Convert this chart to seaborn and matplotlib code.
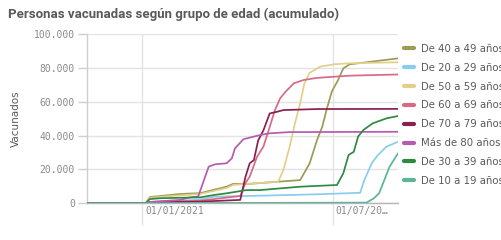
import matplotlib
matplotlib.use("Agg")
import matplotlib.pyplot as plt
import matplotlib.transforms as mtrans
from matplotlib.ticker import FuncFormatter
import seaborn as sns
import pandas as pd

# ---- data ----
series_order = ["De 40 a 49 años", "De 20 a 29 años", "De 50 a 59 años", "De 60 a 69 años",
                "De 70 a 79 años", "Más de 80 años", "De 30 a 39 años", "De 10 a 19 años"]

g40_dates = ["2020-11-10", "2021-01-04", "2021-01-08", "2021-01-18", "2021-02-06", "2021-02-25",
             "2021-03-22", "2021-03-28", "2021-04-13", "2021-05-31", "2021-06-09", "2021-06-16",
             "2021-06-21", "2021-06-25", "2021-06-30", "2021-07-06", "2021-07-11", "2021-07-17",
             "2021-08-02", "2021-09-01"]
g40_vals = [0, 0, 3700, 4300, 5500, 6000, 9800, 11400, 11500, 13700, 23600, 37300,
            45200, 55000, 65800, 72700, 79600, 82000, 83200, 85500]

g20_dates = ["2020-11-10", "2021-01-04", "2021-01-08", "2021-02-06", "2021-02-25", "2021-03-10",
             "2021-04-23", "2021-06-16", "2021-07-27", "2021-07-31", "2021-08-07", "2021-08-13",
             "2021-08-21", "2021-09-01"]
g20_vals = [0, 0, 800, 1500, 2200, 3900, 4500, 5300, 6200, 13700, 23600, 28500, 33400, 36300]

g50_dates = ["2020-11-10", "2021-01-04", "2021-01-08", "2021-01-18", "2021-02-25", "2021-03-22",
             "2021-03-28", "2021-04-13", "2021-05-10", "2021-05-15", "2021-05-21", "2021-05-26",
             "2021-05-31", "2021-06-04", "2021-06-09", "2021-06-19", "2021-07-02", "2021-07-17",
             "2021-09-01"]
g50_vals = [0, 0, 3200, 3800, 5500, 9000, 10800, 11600, 12700, 19600, 33400, 47200,
            59000, 70800, 77000, 80600, 82000, 82600, 83200]

g60_dates = ["2020-11-10", "2021-01-04", "2021-01-08", "2021-02-25", "2021-03-10", "2021-04-04",
             "2021-04-09", "2021-04-13", "2021-04-20", "2021-04-26", "2021-05-02", "2021-05-07",
             "2021-05-12", "2021-05-17", "2021-05-25", "2021-06-03", "2021-06-16", "2021-07-17",
             "2021-09-01"]
g60_vals = [0, 0, 800, 1500, 2500, 4300, 12000, 15700, 27500, 33400, 45000, 55000,
            62000, 65800, 70800, 72700, 74000, 75300, 76000]

g70_dates = ["2020-11-10", "2021-01-04", "2021-01-08", "2021-02-25", "2021-04-04", "2021-04-09",
             "2021-04-13", "2021-04-17", "2021-04-21", "2021-04-26", "2021-05-02", "2021-05-09",
             "2021-05-15", "2021-06-16", "2021-09-01"]
g70_vals = [0, 0, 500, 1000, 2000, 15700, 23600, 25500, 37000, 43000, 53000, 54000,
            55000, 55600, 55700]

g80_dates = ["2020-11-10", "2021-01-04", "2021-01-08", "2021-02-06", "2021-02-15", "2021-02-23",
             "2021-03-05", "2021-03-11", "2021-03-22", "2021-03-27", "2021-03-30", "2021-04-07",
             "2021-04-23", "2021-05-02", "2021-05-21", "2021-09-01"]
g80_vals = [0, 0, 800, 2000, 3500, 4000, 21600, 23000, 23600, 26500, 32400, 37800,
            40300, 41300, 42000, 42200]

g30_dates = ["2020-11-10", "2021-01-04", "2021-01-08", "2021-01-18", "2021-02-25", "2021-03-10",
             "2021-03-22", "2021-04-10", "2021-04-23", "2021-05-31", "2021-07-05", "2021-07-11",
             "2021-07-16", "2021-07-21", "2021-07-25", "2021-07-30", "2021-08-08", "2021-08-21",
             "2021-09-01"]
g30_vals = [0, 0, 2500, 3000, 3500, 4900, 5900, 7800, 7800, 9800, 10800, 17700,
            28500, 30400, 39300, 43200, 47200, 50100, 51500]

g10_dates = ["2020-11-10", "2021-01-04", "2021-01-08", "2021-06-01", "2021-08-02", "2021-08-09",
             "2021-08-14", "2021-08-19", "2021-08-24", "2021-09-01"]
g10_vals = [0, 0, 100, 300, 400, 2900, 5900, 13700, 21600, 29500]

palette = ["#9c9b55", "#87cdee", "#e3cf8a", "#d86a86", "#8a1f52", "#b55bb0", "#2e8a40", "#5ab59a"]

x_tick_dates = ["2021-01-01", "2021-07-01"]
x_tick_labels = ["01/01/2021", "01/07/20…"]
y_ticks = [0, 20000, 40000, 60000, 80000, 100000]

title = "Personas vacunadas según grupo de edad (acumulado)"
y_label = "Vacunados"

# ---- build table ----
all_dates = [g40_dates, g20_dates, g50_dates, g60_dates, g70_dates, g80_dates, g30_dates, g10_dates]
all_vals = [g40_vals, g20_vals, g50_vals, g60_vals, g70_vals, g80_vals, g30_vals, g10_vals]
frames = []
for name, d, v in zip(series_order, all_dates, all_vals):
    frames.append(pd.DataFrame({"fecha": pd.to_datetime(d), "valor": v, "grupo": name}))
df = pd.concat(frames, ignore_index=True)

# ---- plot ----
sns.set_theme(style="white")
plt.rcParams["font.family"] = ["DejaVu Sans"]

fig = plt.figure(figsize=(5.02, 2.40), dpi=100)
ax = fig.add_axes([86.7 / 502, 36.7 / 240, (398 - 86.7) / 502, (203.3 - 33.8) / 240])

sns.lineplot(data=df, x="fecha", y="valor", hue="grupo", hue_order=series_order,
             palette=palette, estimator=None, linewidth=1.25, ax=ax, legend=False, zorder=3)

ax.set_xlim(pd.Timestamp("2020-11-09"), pd.Timestamp("2021-09-01"))
ax.set_ylim(0, 100000)

grid_c = "#e3e3e3"
ax.set_yticks(y_ticks)
ax.yaxis.set_major_formatter(FuncFormatter(lambda v, p: f"{v:,.0f}".replace(",", ".")))
ax.set_xticks(pd.to_datetime(x_tick_dates))
ax.set_xticklabels(x_tick_labels)
ax.grid(True, color=grid_c, linewidth=1.0, zorder=0)
ax.set_axisbelow(True)

for s in ["top", "right"]:
    ax.spines[s].set_visible(False)
ax.spines["left"].set_color("#cfcfcf")
ax.spines["bottom"].set_color("#b5b5b5")
ax.spines["left"].set_linewidth(1.0)
ax.spines["bottom"].set_linewidth(1.0)

ax.tick_params(axis="y", length=6.5, width=1, color="#cfcfcf", pad=2,
               labelsize=7, labelcolor="#8a8a8a", left=True)
ax.tick_params(axis="x", length=16, width=1, color=grid_c, pad=-14,
               labelsize=7, labelcolor="#8a8a8a", bottom=True)
for lab in ax.get_yticklabels():
    lab.set_family("DejaVu Sans Mono")
offset = mtrans.ScaledTranslation(3 / 100, 0, fig.dpi_scale_trans)
for lab in ax.get_xticklabels():
    lab.set_family("DejaVu Sans Mono")
    lab.set_horizontalalignment("left")
    lab.set_transform(lab.get_transform() + offset)

ax.set_xlabel("")
ax.set_ylabel(y_label, fontsize=7.5, color="#595959")
ax.yaxis.set_label_coords(-66 / (398 - 86.7), 0.5)

fig.text(8 / 502, 1 - 14 / 240, title, fontsize=9.5, fontweight="bold", color="#595959",
         va="center", ha="left", family="Roboto")

handles = [plt.Line2D([], [], color=c, linewidth=3) for c in palette]
fig.legend(handles, series_order, loc="upper left", bbox_to_anchor=(404 / 502, 1 - 44 / 240),
           frameon=False, fontsize=7.3, handlelength=1.0, handletextpad=0.7,
           labelspacing=0.87, borderpad=0, borderaxespad=0, labelcolor="#595959")

fig.savefig("out.png", dpi=100)
